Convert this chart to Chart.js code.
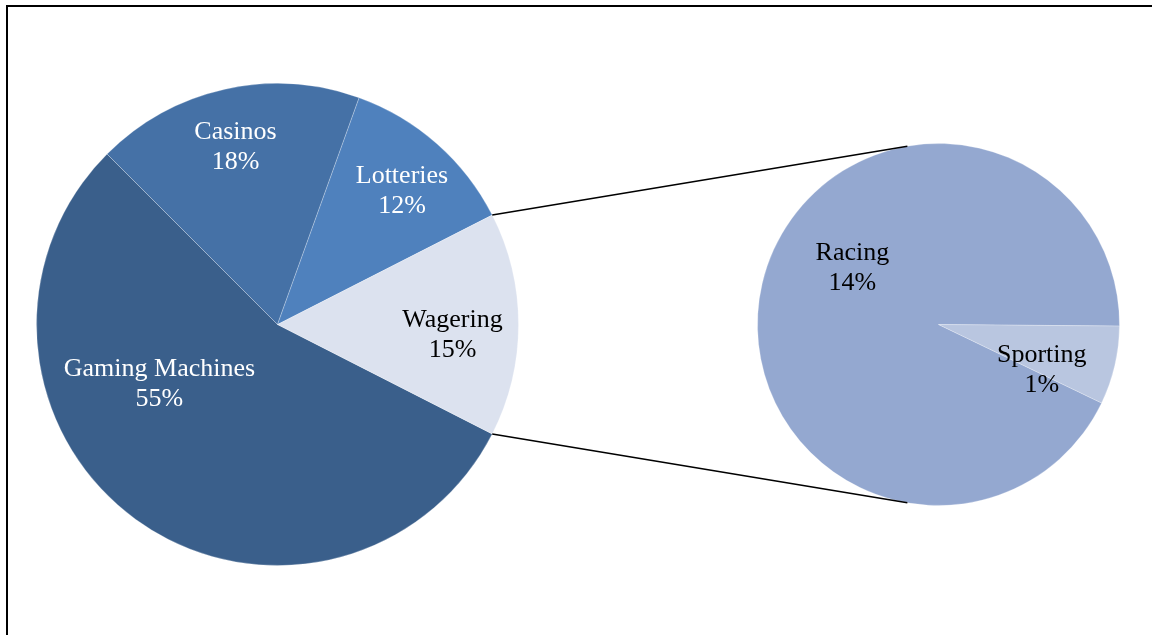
<!DOCTYPE html>
<html>
<head>
<meta charset="utf-8">
<script src="https://cdn.jsdelivr.net/npm/chart.js@4.4.1/dist/chart.umd.min.js"></script>
<style>
  html, body { margin: 0; padding: 0; background: #fff; }
  #wrap { position: relative; width: 1152px; height: 635px; overflow: hidden; }
  #frame { position: absolute; left: 6px; top: 5px; width: 1200px; height: 700px;
           border-left: 2px solid #000; border-top: 2px solid #000; }
  canvas { position: absolute; left: 0; top: 0; }
</style>
</head>
<body>
<div id="wrap">
  <div id="frame"></div>
  <canvas id="main" width="1152" height="635"></canvas>
  <canvas id="sub" width="1152" height="635"></canvas>
</div>
<script>
// primary pie
const mainLabels = ['Gaming Machines', 'Casinos', 'Lotteries', 'Wagering'];
const mainValues = [55, 18, 12, 15];
const mainPct = ['55%', '18%', '12%', '15%'];

// secondary pie (breakdown of Wagering)
const subLabels = ['Racing', 'Sporting'];
const subValues = [13.95, 1.05];
const subPct = ['14%', '1%'];

const mainColors = ['#3a5f8b', '#4571a6', '#4f81bd', '#dce2ef'];
const mainText = ['#fff', '#fff', '#fff', '#000'];
const subColors = ['#94a8d0', '#b9c6e0'];
const subText = ['#000', '#000'];

// label placement: [angle offset from slice middle (deg), distance as fraction of radius]
const mainPlace = [[27.8, 0.546], [-0.6, 0.763], [1.2, 0.763], [3, 0.727]];
const subPlace = [[21.2, 0.576], [9.8, 0.619]];

const FONT = '26px "Liberation Serif", "Times New Roman", serif';

function labelPlugin(names, pcts, colors, place) {
  return {
    id: 'sliceLabels',
    afterDatasetsDraw(chart) {
      const ctx = chart.ctx;
      const arcs = chart.getDatasetMeta(0).data;
      ctx.save();
      ctx.font = FONT;
      ctx.textAlign = 'center';
      ctx.textBaseline = 'middle';
      arcs.forEach((arc, i) => {
        const mid = (arc.startAngle + arc.endAngle) / 2 + place[i][0] * Math.PI / 180;
        const r = arc.outerRadius * place[i][1];
        const x = arc.x + Math.cos(mid) * r;
        const y = arc.y + Math.sin(mid) * r + 2;
        ctx.fillStyle = colors[i];
        ctx.fillText(names[i], x, y - 15);
        ctx.fillText(pcts[i], x, y + 15);
      });
      ctx.restore();
    }
  };
}

const baseOpts = {
  responsive: false,
  animation: false,
  plugins: { legend: { display: false }, tooltip: { enabled: false } },
  events: []
};

const mainChart = new Chart(document.getElementById('main'), {
  type: 'pie',
  data: {
    labels: mainLabels,
    datasets: [{
      data: mainValues,
      backgroundColor: mainColors,
      borderColor: 'rgba(255,255,255,0.25)',
      borderWidth: 1
    }]
  },
  options: {
    ...baseOpts,
    rotation: 117,
    layout: { padding: { left: 36, right: 633, top: 83, bottom: 69 } }
  },
  plugins: [labelPlugin(mainLabels, mainPct, mainText, mainPlace)]
});

// connector lines from the Wagering slice edges to the secondary pie
const connectors = {
  id: 'connectors',
  afterDatasetsDraw(chart) {
    const wag = mainChart.getDatasetMeta(0).data[3];
    const sub = chart.getDatasetMeta(0).data[0];
    const ang = 99.9 * Math.PI / 180;
    const ctx = chart.ctx;
    ctx.save();
    ctx.strokeStyle = '#000';
    ctx.lineWidth = 1.5;
    ctx.beginPath();
    ctx.moveTo(wag.x + Math.cos(wag.startAngle) * wag.outerRadius, wag.y + Math.sin(wag.startAngle) * wag.outerRadius);
    ctx.lineTo(sub.x + Math.cos(-ang) * sub.outerRadius, sub.y + Math.sin(-ang) * sub.outerRadius);
    ctx.moveTo(wag.x + Math.cos(wag.endAngle) * wag.outerRadius, wag.y + Math.sin(wag.endAngle) * wag.outerRadius);
    ctx.lineTo(sub.x + Math.cos(ang) * sub.outerRadius, sub.y + Math.sin(ang) * sub.outerRadius);
    ctx.stroke();
    ctx.restore();
  }
};

new Chart(document.getElementById('sub'), {
  type: 'pie',
  data: {
    labels: subLabels,
    datasets: [{
      data: subValues,
      backgroundColor: subColors,
      borderColor: 'rgba(255,255,255,0.25)',
      borderWidth: 1
    }]
  },
  options: {
    ...baseOpts,
    rotation: 115.7,
    layout: { padding: { left: 757, right: 32, top: 143, bottom: 129 } }
  },
  plugins: [labelPlugin(subLabels, subPct, subText, subPlace), connectors]
});
</script>
</body>
</html>
